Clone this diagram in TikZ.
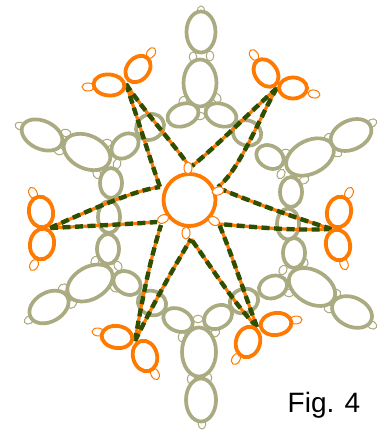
\documentclass[tikz,border=0pt]{standalone}
\usepackage{fontspec}
\setmainfont{Liberation Sans}
\definecolor{sage}{HTML}{ABAB82}
\definecolor{tatorange}{HTML}{FF7A00}
\definecolor{darkthread}{HTML}{2F4F00}
\tikzset{
  grayfill/.style={fill=white},
  grayring/.style={draw=sage,line width=3.7pt},
  orangering/.style={draw=tatorange,line width=3.8pt},
  graypicot/.style={draw=sage,fill=white,line width=1pt},
  orangepicot/.style={draw=tatorange,fill=white,line width=1pt},
  threadbase/.style={draw=tatorange,line width=3.2pt},
  threadtop/.style={draw=darkthread,line width=4.4pt,dash pattern=on 8pt off 4.5pt},
}
\newcommand{\ring}[6]{\path[#1,shift={(#2,#3)},rotate=#6] (0,0) ellipse [x radius=#4,y radius=#5];}
\newcommand{\thread}[3]{%
  \draw[threadbase] (#1) .. controls #3 .. (#2);
  \draw[threadtop] (#1) .. controls #3 .. (#2);}
\newcommand{\grayrings}{
  201/32/14.5/20.5/0, 200/83/16.5/23.5/0,
  183/115/16/11/20, 221/115/16/11/-20,
  150/127/14.5/12.5/30, 247/133/14.5/12.5/-20,
  125/146/15/11/38, 270/157/14.5/11/-30,
  42/135/21.5/14/-25, 87/152/24.5/16.5/-25,
  351/135/21.5/14.5/25, 310/157/25.5/16.5/27,
  111/183/11/15/0, 291/192/11/15/0,
  109/217/11/16/0, 288/224/11/15.5/0,
  108/249/11/15/0, 294/253/11/15/0,
  90/283/24.5/16/30, 49/307/21/14.5/30,
  127/283/14.5/11/-30, 152/303/14.5/12/-20,
  312/287/25/16.5/-30, 352/312/21/14.5/-25,
  273/287/14.5/11/20, 244/301/14.5/12/20,
  218/317/15/11/30, 178/320/15.5/11/-25,
  199/352/17/24.5/0, 201/400/15/21.5/0}
\begin{document}
\begin{tikzpicture}[x=1pt,y=-1pt]
\useasboundingbox (0,0) rectangle (384,435);
% small gray picots
\foreach \x/\y/\a in {201/11/90,193/57/90,210/56/90,183/101/60,217/98/120,200/116/0,
  20/126/-20,66/133/-20,59/151/-20,107/143/0,117/164/70,97/174/120,95/261/60,118/266/120,115/288/-30,63/288/30,72/304/40,29/320/30,
  372/123/30,328/138/60,337/153/-20,285/153/20,281/174/60,304/180/30,283/270/60,304/262/120,289/293/0,
  336/293/-20,329/309/-20,372/325/-30,198/319/0,215/333/30,182/337/90,191/379/90,208/378/90,202/424/90}
  {\ring{graypicot}{\x}{\y}{5}{3.8}{\a}}
% gray rings: all fills, then all outlines, so that overlapping rings stay visible
\foreach \x/\y/\rx/\ry/\a in \grayrings
  {\ring{grayfill}{\x}{\y}{\rx}{\ry}{\a}}
\foreach \x/\y/\rx/\ry/\a in \grayrings
  {\ring{grayring}{\x}{\y}{\rx}{\ry}{\a}}
% thread end points
\coordinate (upL) at (126,84);
\coordinate (upR) at (277,88);
\coordinate (midR) at (332,229);
\coordinate (lowR) at (257,327);
\coordinate (lowL) at (135,341);
\coordinate (midL) at (50,228);
\coordinate (hubA) at (160,187);
\coordinate (hubB) at (187,163);
\coordinate (hubC) at (192,166);
\coordinate (hubD) at (218,187);
\coordinate (hubE) at (223,190);
\coordinate (hubF) at (219,224);
\coordinate (hubG) at (191,239);
\coordinate (hubH) at (161,225);
\coordinate (hubI) at (157,222);
% threads
\thread{upL}{hubA}{(138,120) and (152,165)}
\thread{upL}{hubB}{(142,108) and (170,140)}
\thread{upR}{hubC}{(250,112) and (218,145)}
\thread{upR}{hubD}{(262,112) and (240,170)}
\thread{midR}{hubE}{(295,218) and (255,203)}
\thread{midR}{hubF}{(290,231) and (255,227)}
\thread{lowR}{hubF}{(245,295) and (232,255)}
\thread{lowR}{hubG}{(235,305) and (210,265)}
\thread{lowL}{hubH}{(142,300) and (150,260)}
\thread{lowL}{hubG}{(150,310) and (175,265)}
\thread{midL}{hubA}{(90,210) and (135,190)}
\thread{midL}{hubI}{(90,226) and (130,224)}
% orange picots
\foreach \x/\y/\a in {151/53/55,88/87/0,254/55/125,314/94/-10,33/193/115,34/265/60,349/193/65,344/264/110,98/332/-5,155/374/115,296/320/5,236/359/60}
  {\ring{orangepicot}{\x}{\y}{6}{4}{\a}}
% orange rings
\foreach \x/\y/\rx/\ry/\a in {
  138/69/14.5/11/50, 109/85/15.5/10.5/-5,
  266/73/15/11/-55, 293/88/14/10.5/0,
  41/212/12/15.5/10, 42/244/12/15.5/-10,
  339/212/12/15.5/-12, 338/245/12/15.5/12,
  117/337/15.5/11/-8, 145/356/12/15.5/15,
  276/324/15.5/11/8, 248/342/12/15.5/-15}
  {\ring{orangering}{\x}{\y}{\rx}{\ry}{\a}}
\ring{orangering}{189.5}{200}{26}{26}{0}
% hub picots
\foreach \x/\y/\a in {188/168/90,218/191/15,163/219/25,214/221/-30,186/233/90}
  {\ring{orangepicot}{\x}{\y}{6}{4}{\a}}
\node[text=black,font=\fontsize{28}{30}\selectfont,anchor=center] (caption) at (324,405) {Fig. 4};
\end{tikzpicture}
\end{document}
